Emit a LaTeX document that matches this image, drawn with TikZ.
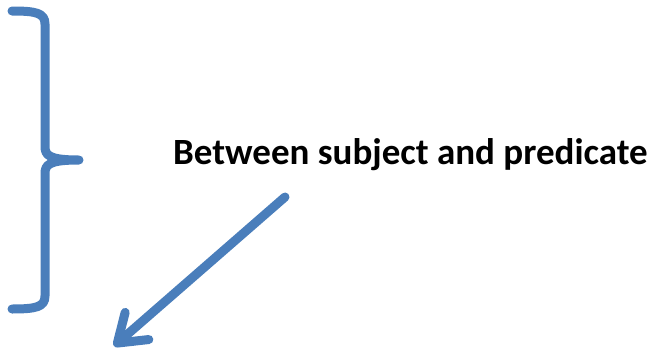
\documentclass[tikz,border=0pt]{standalone}
\usepackage{fontspec}
\setmainfont{Carlito}
\usepackage{xcolor}
\usepackage{tikz}
\usetikzlibrary{arrows.meta, positioning}

\definecolor{officeblue}{HTML}{4A7EBB}

\begin{document}
\begin{tikzpicture}[
  x=1pt, y=-1pt,
  label text/.style={font=\fontsize{37}{44}\selectfont\bfseries, inner sep=0pt, anchor=base west},
  bracket/.style={draw=officeblue, line width=9pt, line cap=round, line join=round},
  arrow/.style={draw=officeblue, line width=9pt, line cap=round,
    -{Straight Barb[length=26pt, width=36pt, line cap=round, line join=round]}}
]
\useasboundingbox (0,0) rectangle (657,354);

% Nodes
\node[label text] (between) at (173,164) {Between subject and predicate};
\coordinate (start) at (285,197);
\coordinate (tip) at (114,346);

% Brace
\path[bracket] (12,11) .. controls (36,11) and (45,13) .. (45,24) -- (45,146)
  .. controls (45,155) and (48,160) .. (79,160)
  .. controls (48,160) and (45,165) .. (45,174) -- (45,296)
  .. controls (45,307) and (36,309) .. (12,309);

% Pointers
\draw[arrow] (start) -- (tip);

\end{tikzpicture}
\end{document}
